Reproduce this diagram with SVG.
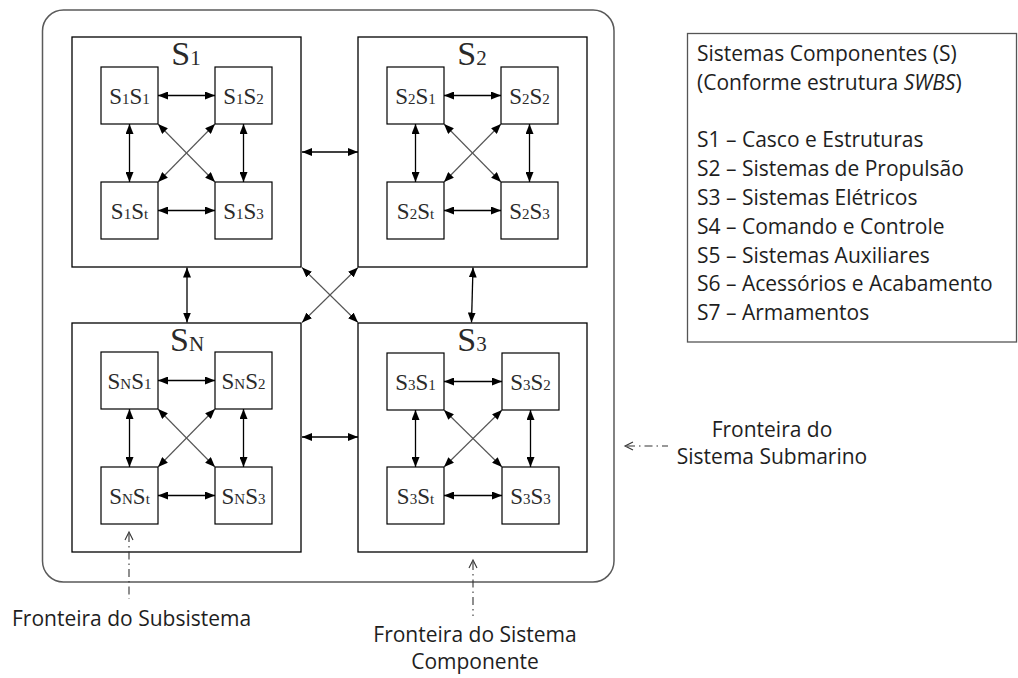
<svg xmlns="http://www.w3.org/2000/svg" width="1018" height="678" viewBox="0 0 1018 678">
  <style>
    .frame { fill: #fff; stroke: #5a5a5a; stroke-width: 1.5; }
    .q { fill: #fff; stroke: #000; stroke-width: 1.3; }
    .n { fill: #fff; stroke: #000; stroke-width: 1.2; }
    .lbl { font-family: "Liberation Serif", "Times New Roman", serif; font-size: 23px; fill: #2a2a2a; text-anchor: middle; }
    .lbl .s { font-size: 15px; }
    .ttl { font-family: "Liberation Serif", "Times New Roman", serif; font-size: 34px; fill: #2a2a2a; text-anchor: middle; }
    .ttl .s { font-size: 21px; }
    .txt { font-family: "Open Sans", "Noto Sans", sans-serif; font-size: 21px; fill: #1e1e1e; }
    .mid { text-anchor: middle; }
    .a { stroke: #000; stroke-width: 1.3; fill: none; marker-start: url(#head); marker-end: url(#head); }
    .d { stroke: #555; stroke-width: 1.1; fill: none; marker-start: url(#head); marker-end: url(#head); }
    .ptr { stroke: #333; stroke-width: 1.1; fill: none; stroke-dasharray: 8 4 1.5 4; }
    .chev { stroke: #333; stroke-width: 1.1; fill: none; }
    .legend { fill: #fff; stroke: #555; stroke-width: 1.3; }
  </style>
  <defs>
    <marker id="head" viewBox="0 0 10 8" refX="10" refY="4" markerWidth="10" markerHeight="8" markerUnits="userSpaceOnUse" orient="auto-start-reverse">
      <path d="M0,0 L10,4 L0,8 z" fill="#000"/>
    </marker>
  </defs>

  <!-- submarine system boundary -->
  <rect id="submarino" class="frame" x="42.5" y="10" width="571.5" height="572" rx="21" ry="21"/>

  <!-- component system S1 -->
  <g id="S1" transform="translate(72,37)">
    <rect class="q" x="0" y="0" width="229" height="230"/>
    <text class="ttl" x="114" y="28">S<tspan class="s">1</tspan></text>
    <g id="S1S1"><rect class="n" x="29" y="30" width="57" height="57"/><text class="lbl" x="57.5" y="66.5">S<tspan class="s">1</tspan>S<tspan class="s">1</tspan></text></g>
    <g id="S1S2"><rect class="n" x="143" y="30" width="57" height="57"/><text class="lbl" x="171.5" y="66.5">S<tspan class="s">1</tspan>S<tspan class="s">2</tspan></text></g>
    <g id="S1St"><rect class="n" x="29" y="145" width="57" height="57"/><text class="lbl" x="57.5" y="181.5">S<tspan class="s">1</tspan>S<tspan class="s">t</tspan></text></g>
    <g id="S1S3"><rect class="n" x="143" y="145" width="57" height="57"/><text class="lbl" x="171.5" y="181.5">S<tspan class="s">1</tspan>S<tspan class="s">3</tspan></text></g>
  </g>

  <!-- component system S2 -->
  <g id="S2" transform="translate(358,37)">
    <rect class="q" x="0" y="0" width="229" height="230"/>
    <text class="ttl" x="114" y="28">S<tspan class="s">2</tspan></text>
    <g id="S2S1"><rect class="n" x="29" y="30" width="57" height="57"/><text class="lbl" x="57.5" y="66.5">S<tspan class="s">2</tspan>S<tspan class="s">1</tspan></text></g>
    <g id="S2S2"><rect class="n" x="143" y="30" width="57" height="57"/><text class="lbl" x="171.5" y="66.5">S<tspan class="s">2</tspan>S<tspan class="s">2</tspan></text></g>
    <g id="S2St"><rect class="n" x="29" y="145" width="57" height="57"/><text class="lbl" x="57.5" y="181.5">S<tspan class="s">2</tspan>S<tspan class="s">t</tspan></text></g>
    <g id="S2S3"><rect class="n" x="143" y="145" width="57" height="57"/><text class="lbl" x="171.5" y="181.5">S<tspan class="s">2</tspan>S<tspan class="s">3</tspan></text></g>
  </g>

  <!-- component system SN -->
  <g id="SN" transform="translate(72,323)">
    <rect class="q" x="0" y="0" width="229" height="229"/>
    <text class="ttl" x="115" y="28">S<tspan class="s">N</tspan></text>
    <g id="SNS1"><rect class="n" x="29" y="29" width="57" height="57"/><text class="lbl" x="57.5" y="65.5">S<tspan class="s">N</tspan>S<tspan class="s">1</tspan></text></g>
    <g id="SNS2"><rect class="n" x="143" y="29" width="57" height="57"/><text class="lbl" x="171.5" y="65.5">S<tspan class="s">N</tspan>S<tspan class="s">2</tspan></text></g>
    <g id="SNSt"><rect class="n" x="29" y="144" width="57" height="57"/><text class="lbl" x="57.5" y="180.5">S<tspan class="s">N</tspan>S<tspan class="s">t</tspan></text></g>
    <g id="SNS3"><rect class="n" x="143" y="144" width="57" height="57"/><text class="lbl" x="171.5" y="180.5">S<tspan class="s">N</tspan>S<tspan class="s">3</tspan></text></g>
  </g>

  <!-- component system S3 -->
  <g id="S3" transform="translate(358,323)">
    <rect class="q" x="0" y="0" width="229" height="229"/>
    <text class="ttl" x="114" y="28">S<tspan class="s">3</tspan></text>
    <g id="S3S1"><rect class="n" x="29" y="30" width="57" height="57"/><text class="lbl" x="57.5" y="66.5">S<tspan class="s">3</tspan>S<tspan class="s">1</tspan></text></g>
    <g id="S3S2"><rect class="n" x="144" y="30" width="57" height="57"/><text class="lbl" x="172.5" y="66.5">S<tspan class="s">3</tspan>S<tspan class="s">2</tspan></text></g>
    <g id="S3St"><rect class="n" x="29" y="144" width="57" height="57"/><text class="lbl" x="57.5" y="180.5">S<tspan class="s">3</tspan>S<tspan class="s">t</tspan></text></g>
    <g id="S3S3"><rect class="n" x="144" y="144" width="57" height="57"/><text class="lbl" x="172.5" y="180.5">S<tspan class="s">3</tspan>S<tspan class="s">3</tspan></text></g>
  </g>

  <!-- connectors -->
  <g id="connectors">
    <!-- between component systems -->
    <line class="a" x1="302" y1="152" x2="358" y2="152"/>
    <line class="a" x1="302" y1="437" x2="358" y2="437"/>
    <line class="a" x1="187" y1="267.5" x2="187" y2="322.5"/>
    <line class="a" x1="473" y1="267.5" x2="471.5" y2="322.5"/>
    <line class="d" x1="302" y1="267.5" x2="358" y2="322.5"/>
    <line class="d" x1="358" y1="267.5" x2="302" y2="322.5"/>
    <!-- inside S1 -->
    <g transform="translate(72,37)">
      <line class="a" x1="86" y1="58.5" x2="143" y2="58.5"/>
      <line class="a" x1="86" y1="173.5" x2="143" y2="173.5"/>
      <line class="a" x1="57.5" y1="87" x2="57.5" y2="145"/>
      <line class="a" x1="171.5" y1="87" x2="171.5" y2="145"/>
      <line class="d" x1="86" y1="87" x2="143" y2="145"/>
      <line class="d" x1="143" y1="87" x2="86" y2="145"/>
    </g>
    <!-- inside S2 -->
    <g transform="translate(358,37)">
      <line class="a" x1="86" y1="58.5" x2="143" y2="58.5"/>
      <line class="a" x1="86" y1="173.5" x2="143" y2="173.5"/>
      <line class="a" x1="57.5" y1="87" x2="57.5" y2="145"/>
      <line class="a" x1="171.5" y1="87" x2="171.5" y2="145"/>
      <line class="d" x1="86" y1="87" x2="143" y2="145"/>
      <line class="d" x1="143" y1="87" x2="86" y2="145"/>
    </g>
    <!-- inside SN -->
    <g transform="translate(72,323)">
      <line class="a" x1="86" y1="57.5" x2="143" y2="57.5"/>
      <line class="a" x1="86" y1="172.5" x2="143" y2="172.5"/>
      <line class="a" x1="57.5" y1="86" x2="57.5" y2="144"/>
      <line class="a" x1="171.5" y1="86" x2="171.5" y2="144"/>
      <line class="d" x1="86" y1="86" x2="143" y2="144"/>
      <line class="d" x1="143" y1="86" x2="86" y2="144"/>
    </g>
    <!-- inside S3 -->
    <g transform="translate(358,323)">
      <line class="a" x1="86" y1="58.5" x2="144" y2="58.5"/>
      <line class="a" x1="86" y1="172.5" x2="144" y2="172.5"/>
      <line class="a" x1="57.5" y1="87" x2="57.5" y2="144"/>
      <line class="a" x1="172.5" y1="87" x2="172.5" y2="144"/>
      <line class="d" x1="86" y1="87" x2="144" y2="144"/>
      <line class="d" x1="144" y1="87" x2="86" y2="144"/>
    </g>
  </g>

  <!-- boundary pointers -->
  <g id="pointers">
    <polyline class="chev" points="125,540 129,532 133,540"/>
    <line class="ptr" x1="129" y1="534" x2="129" y2="599"/>
    <polyline class="chev" points="469,568 473,560 477,568"/>
    <line class="ptr" x1="473" y1="562" x2="473" y2="616"/>
    <polyline class="chev" points="633,442 625,446 633,450"/>
    <line class="ptr" x1="627" y1="446" x2="668" y2="446"/>
  </g>

  <!-- boundary captions -->
  <g id="cap-subsistema"><text class="txt" x="12" y="626">Fronteira do Subsistema</text></g>
  <g id="cap-componente">
    <text class="txt mid" x="475" y="642">Fronteira do Sistema</text>
    <text class="txt mid" x="475" y="669">Componente</text>
  </g>
  <g id="cap-submarino">
    <text class="txt mid" x="772" y="437">Fronteira do</text>
    <text class="txt mid" x="772" y="464">Sistema Submarino</text>
  </g>

  <!-- legend of component systems -->
  <g id="legenda">
    <rect class="legend" x="687.5" y="33.5" width="329" height="308.5"/>
    <text class="txt" x="697" y="61">Sistemas Componentes (S)</text>
    <text class="txt" x="697" y="89.8">(Conforme estrutura <tspan font-style="italic">SWBS</tspan>)</text>
    <text class="txt" x="697" y="147.4">S1 – Casco e Estruturas</text>
    <text class="txt" x="697" y="176.2">S2 – Sistemas de Propulsão</text>
    <text class="txt" x="697" y="205">S3 – Sistemas Elétricos</text>
    <text class="txt" x="697" y="233.8">S4 – Comando e Controle</text>
    <text class="txt" x="697" y="262.6">S5 – Sistemas Auxiliares</text>
    <text class="txt" x="697" y="291.4">S6 – Acessórios e Acabamento</text>
    <text class="txt" x="697" y="320.2">S7 – Armamentos</text>
  </g>
</svg>
